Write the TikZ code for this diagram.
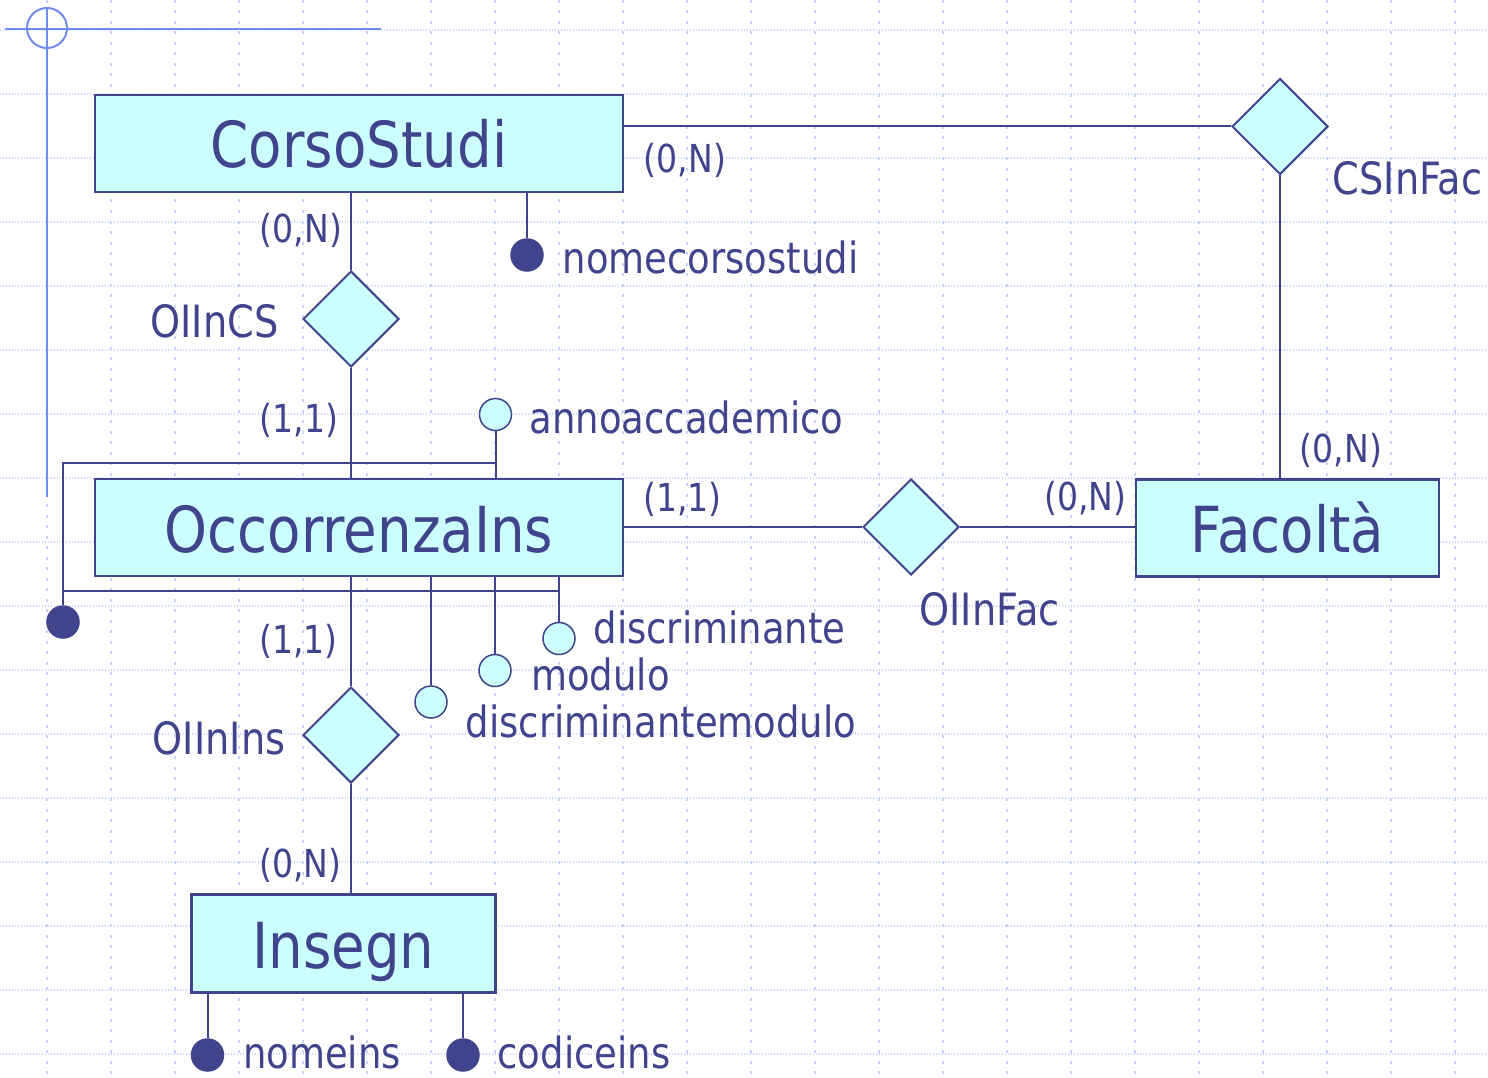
\documentclass[tikz,border=0pt]{standalone}
\usepackage{fontspec}
\setmainfont{DejaVu Sans}[FakeStretch=0.86]
\usetikzlibrary{shapes.geometric}
\definecolor{ink}{RGB}{64,68,140}
\definecolor{cyanfill}{RGB}{204,255,255}
\definecolor{gridc}{RGB}{200,212,250}
\definecolor{deco}{RGB}{112,140,240}
\begin{document}
\begin{tikzpicture}[x=1pt,y=-1pt,
  entity/.style={draw=ink, fill=cyanfill, line width=2.2pt, rectangle, inner sep=0pt,
    text=ink, font=\fontsize{63.5}{63.5}\selectfont, text height=49pt, text depth=0pt},
  rel/.style={draw=ink, fill=cyanfill, line width=2pt, diamond, minimum width=96pt,
    minimum height=96pt, inner sep=0pt},
  attrid/.style={circle, draw=ink, fill=ink, line width=1.5pt, minimum size=32pt, inner sep=0pt},
  attr/.style={circle, draw=ink, fill=cyanfill, line width=1.5pt, minimum size=32pt, inner sep=0pt},
  card/.style={text=ink, inner sep=0pt, anchor=base, font=\fontsize{38.5}{38.5}\selectfont},
  relname/.style={text=ink, inner sep=0pt, anchor=base, font=\fontsize{44.5}{44.5}\selectfont},
  attrname/.style={text=ink, inner sep=0pt, anchor=base, font=\fontsize{43}{43}\selectfont},
  conn/.style={draw=ink, line width=2pt},
  hgrid/.style={draw=gridc, line width=1.3pt, dash pattern=on 1.3pt off 1.7pt},
  vgrid/.style={draw=gridc, line width=1.3pt, dash pattern=on 3pt off 7.5pt},
  decor/.style={draw=deco, line width=2pt}
]
\useasboundingbox (0,0) rectangle (1488,1078);
\fill[white] (0,0) rectangle (1488,1078);

% background grid
\foreach \gx in {47,111,...,1455} { \draw[vgrid] (\gx,0) -- (\gx,1078); }
\foreach \gy in {30,94,...,1054} { \draw[hgrid] (0,\gy) -- (1488,\gy); }

% slide decoration
\draw[decor] (47,28) circle (20);
\draw[decor] (47,7) -- (47,497);
\draw[decor] (5,29) -- (381,29);

% entities
\node[entity, minimum width=528pt, minimum height=97pt] (cs) at (359,143.5) {CorsoStudi};
\node[entity, minimum width=528pt, minimum height=97pt] (oi) at (359,527.5) {OccorrenzaIns};
\node[entity, minimum width=303pt, minimum height=97pt] (fac) at (1287.5,528) {Facoltà};
\node[entity, minimum width=304pt, minimum height=98pt] (ins) at (343.5,943.5) {Insegn};

% relationships
\node[rel] (csinfac) at (1280,126.5) {};
\node[rel] (oiincs) at (351,319) {};
\node[rel] (oiinfac) at (911,527) {};
\node[rel] (oiinins) at (351,735) {};

% attribute circles
\node[attrid] (ancs) at (527,255) {};
\node[attr] (aanno) at (495.5,414.5) {};
\node[attrid] (aid) at (63,622) {};
\node[attr] (adisc) at (559,638.5) {};
\node[attr] (amod) at (495,670.5) {};
\node[attr] (adm) at (431,702) {};
\node[attrid] (anome) at (207.5,1055) {};
\node[attrid] (acod) at (463,1055) {};

\coordinate (idtop) at (63,463);
\coordinate (idbot) at (63,591);

% connectors
\draw[conn] (csinfac.west) -- (csinfac.west -| cs.east);
\draw[conn] (csinfac.south) -- (csinfac.south |- fac.north);
\draw[conn] (oiincs.north |- cs.south) -- (oiincs.north);
\draw[conn] (oiincs.south) -- (oiincs.south |- oi.north);
\draw[conn] (oiinfac.west -| oi.east) -- (oiinfac.west);
\draw[conn] (oiinfac.east) -- (oiinfac.east -| fac.west);
\draw[conn] (oiinins.north |- oi.south) -- (oiinins.north);
\draw[conn] (oiinins.south) -- (oiinins.south |- ins.north);

\draw[conn] (ancs) -- (ancs |- cs.south);
\draw[conn] (aanno) -- (aanno |- oi.north);
\draw[conn] (adisc) -- (adisc |- oi.south);
\draw[conn] (amod) -- (amod |- oi.south);
\draw[conn] (adm) -- (adm |- oi.south);
\draw[conn] (aid) -- (idtop) -- (idtop -| aanno);
\draw[conn] (idbot) -- (idbot -| adisc);
\draw[conn] (anome) -- (anome |- ins.south);
\draw[conn] (acod) -- (acod |- ins.south);

% cardinalities
\node[card] (c1) at (685,173) {(0,N)};
\node[card] (c2) at (301,243) {(0,N)};
\node[card] (c3) at (299,432) {(1,1)};
\node[card] (c4) at (682.5,511) {(1,1)};
\node[card] (c5) at (1085.5,510) {(0,N)};
\node[card] (c6) at (1341,462) {(0,N)};
\node[card] (c7) at (298.5,653) {(1,1)};
\node[card] (c8) at (300.5,877) {(0,N)};

% relationship names
\node[relname] (l1) at (1407.5,195) {CSInFac};
\node[relname] (l2) at (214.5,337) {OIInCS};
\node[relname] (l3) at (989.5,625) {OIInFac};
\node[relname] (l4) at (219,754) {OIInIns};

% attribute names
\node[attrname] (t1) at (710.5,273) {nomecorsostudi};
\node[attrname] (t2) at (686.5,433) {annoaccademico};
\node[attrname] (t3) at (719.5,643) {discriminante};
\node[attrname] (t4) at (600.5,690) {modulo};
\node[attrname] (t5) at (661,737) {discriminantemodulo};
\node[attrname] (t6) at (322,1068) {nomeins};
\node[attrname] (t7) at (584,1068) {codiceins};
\end{tikzpicture}
\end{document}
